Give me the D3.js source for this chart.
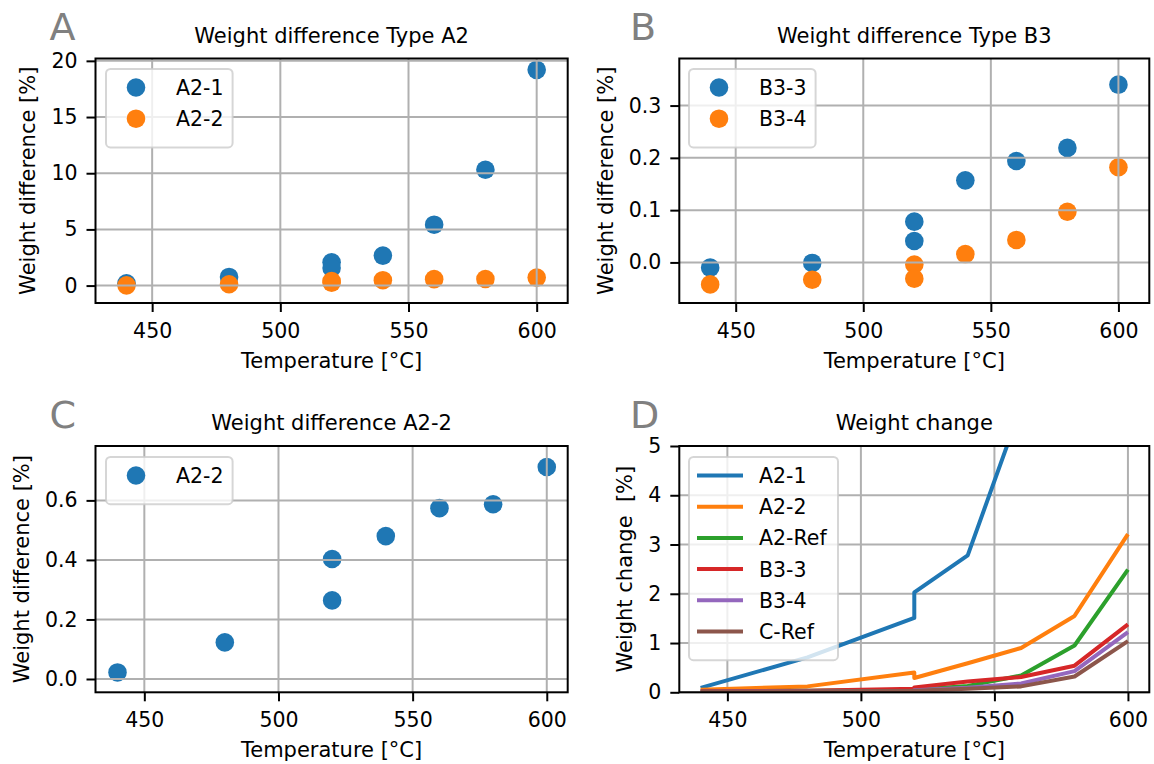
<!DOCTYPE html>
<html>
<head>
<meta charset="utf-8">
<script src="https://cdn.jsdelivr.net/npm/d3@7"></script>
<style>
  body { margin: 0; background: #fff; }
  text { font-family: "DejaVu Sans", sans-serif; }
</style>
</head>
<body>
<svg id="fig" width="1154" height="764"></svg>
<script>
// Test temperatures (520 °C was measured twice)
const temperatures = [440, 480, 520, 520, 540, 560, 580, 600];

// Weight difference [%] per sample
const diffA21 = [0.20, 0.77, 2.07, 1.57, 2.67, 5.42, 10.31, 19.2];
const diffA22 = [0.022, 0.123, 0.403, 0.264, 0.48, 0.574, 0.587, 0.712];
const diffB33 = [-0.010, -0.001, 0.078, 0.041, 0.157, 0.194, 0.219, 0.340];
const diffB34 = [-0.042, -0.033, -0.004, -0.031, 0.016, 0.043, 0.097, 0.182];

// Weight change [%] per sample
const changeA21 = [0.09, 0.71, 1.51, 2.03, 2.78, 5.8, 10.9, 20.1];
const changeA22 = [0.05, 0.12, 0.40, 0.29, 0.59, 0.90, 1.55, 3.21];
const changeA2Ref = [0.02, 0.03, 0.05, 0.05, 0.13, 0.34, 0.95, 2.49];
const changeB33 = [0.02, 0.03, 0.07, 0.10, 0.22, 0.31, 0.54, 1.38];
const changeB34 = [0.01, 0.02, 0.03, 0.04, 0.09, 0.18, 0.43, 1.22];
const changeCRef = [0.01, 0.02, 0.03, 0.03, 0.07, 0.12, 0.32, 1.04];

const changeNames = ["A2-1", "A2-2", "A2-Ref", "B3-3", "B3-4", "C-Ref"];
const changeSeries = [changeA21, changeA22, changeA2Ref, changeB33, changeB34, changeCRef];

// Axis ticks
const xTicks = [450, 500, 550, 600];
const yTicksA = [0, 5, 10, 15, 20];
const yTicksB = [0.0, 0.1, 0.2, 0.3];
const yTicksC = [0.0, 0.2, 0.4, 0.6];
const yTicksD = [0, 1, 2, 3, 4, 5];

const palette = ["#1f77b4", "#ff7f0e", "#2ca02c", "#d62728", "#9467bd", "#8c564b"];

const svg = d3.select("#fig");
const FONT = 20.5;
const GRID = "#b0b0b0";
const DOT_R = 9.3;

function panel(o) {
  const g = svg.append("g");
  const x = d3.scaleLinear().domain(o.xDomain).range([o.x0, o.x1]);
  const y = d3.scaleLinear().domain(o.yDomain).range([o.y1, o.y0]);
  const clipId = "clip-" + o.letter;
  svg.append("clipPath").attr("id", clipId)
    .append("rect").attr("x", o.x0).attr("y", o.y0)
    .attr("width", o.x1 - o.x0).attr("height", o.y1 - o.y0);

  const layerA = g.append("g");
  const layerB = g.append("g");
  const gridLayer = o.gridOnTop ? layerB : layerA;
  const dataLayer = (o.gridOnTop ? layerA : layerB).attr("clip-path", `url(#${clipId})`);

  gridLayer.selectAll("line.gx").data(xTicks).join("line")
    .attr("x1", d => x(d)).attr("x2", d => x(d))
    .attr("y1", o.y0).attr("y2", o.y1)
    .attr("stroke", GRID).attr("stroke-width", 2);
  gridLayer.selectAll("line.gy").data(o.yTicks).join("line")
    .attr("x1", o.x0).attr("x2", o.x1)
    .attr("y1", d => y(d)).attr("y2", d => y(d))
    .attr("stroke", GRID).attr("stroke-width", 2);

  // axes
  const ax = g.append("g").attr("transform", `translate(0,${o.y1})`)
    .call(d3.axisBottom(x).tickValues(xTicks).tickSize(9).tickPadding(11.5).tickFormat(d3.format("d")));
  const ay = g.append("g").attr("transform", `translate(${o.x0},0)`)
    .call(d3.axisLeft(y).tickValues(o.yTicks).tickSize(9).tickPadding(9).tickFormat(o.yFmt));
  [ax, ay].forEach(a => {
    a.select(".domain").remove();
    a.selectAll(".tick line").attr("stroke", "#000").attr("stroke-width", 2);
    a.selectAll(".tick text").attr("fill", "#000").style("font-size", FONT + "px")
      .style("font-family", '"DejaVu Sans", sans-serif');
  });

  // spines
  g.append("rect").attr("x", o.x0).attr("y", o.y0)
    .attr("width", o.x1 - o.x0).attr("height", o.y1 - o.y0)
    .attr("fill", "none").attr("stroke", "#000").attr("stroke-width", 2);

  // title, axis labels, panel letter
  g.append("text").attr("x", (o.x0 + o.x1) / 2).attr("y", o.y0 - 16)
    .attr("text-anchor", "middle").style("font-size", "21px").text(o.title);
  g.append("text").attr("x", (o.x0 + o.x1) / 2).attr("y", o.y1 + 65)
    .attr("text-anchor", "middle").style("font-size", "21px").text("Temperature [°C]");
  const tb = ay.node().getBBox();
  const lx = tb.x + o.x0 - 16;
  g.append("text").attr("transform", `translate(${lx},${(o.y0 + o.y1) / 2}) rotate(-90)`)
    .attr("text-anchor", "middle").style("font-size", "21px")
    .style("white-space", "pre").text(o.yLabel);
  g.append("text").attr("x", o.letterX).attr("y", o.y0 - 18.5)
    .attr("fill", "#808080").style("font-size", "38px").text(o.letter);

  return { g, x, y, dataLayer };
}

function legend(g, lx, ly, w, items, kind) {
  const rowH = 31.2;
  const h = 16 + rowH * items.length;
  const lg = g.append("g");
  lg.append("rect").attr("x", lx).attr("y", ly).attr("width", w).attr("height", h)
    .attr("rx", 4.5).attr("fill", "#fff").attr("fill-opacity", 0.8)
    .attr("stroke", "#cccccc").attr("stroke-opacity", 0.8).attr("stroke-width", 2);
  items.forEach((it, i) => {
    const cy = ly + 18.5 + rowH * i;
    if (kind === "dot") {
      lg.append("circle").attr("cx", lx + 30).attr("cy", cy).attr("r", DOT_R).attr("fill", it.color);
      lg.append("text").attr("x", lx + 70).attr("y", cy + 7.4).style("font-size", FONT + "px").text(it.name);
    } else {
      lg.append("line").attr("x1", lx + 8).attr("x2", lx + 54).attr("y1", cy).attr("y2", cy)
        .attr("stroke", it.color).attr("stroke-width", 4);
      lg.append("text").attr("x", lx + 70).attr("y", cy + 7.4).style("font-size", FONT + "px").text(it.name);
    }
  });
}

function dots(p, values, color) {
  p.dataLayer.append("g").selectAll("circle").data(temperatures.map((t, i) => [t, values[i]]))
    .join("circle").attr("cx", d => p.x(d[0])).attr("cy", d => p.y(d[1]))
    .attr("r", DOT_R).attr("fill", color);
}

// A: weight difference, type A2
const pA = panel({
  letter: "A", letterX: 49.5, title: "Weight difference Type A2",
  x0: 95.5, x1: 567.7, y0: 58.5, y1: 303,
  xDomain: [427.9, 612.1], yDomain: [-1.55, 20.21],
  yTicks: yTicksA, yFmt: d3.format("d"), yLabel: "Weight difference [%]", gridOnTop: true
});
dots(pA, diffA21, palette[0]);
dots(pA, diffA22, palette[1]);
legend(pA.g, 106, 69, 126.6, [{ name: "A2-1", color: palette[0] }, { name: "A2-2", color: palette[1] }], "dot");

// B: weight difference, type B3
const pB = panel({
  letter: "B", letterX: 630, title: "Weight difference Type B3",
  x0: 679.3, x1: 1149.3, y0: 58.5, y1: 303,
  xDomain: [427.9, 612.1], yDomain: [-0.0776, 0.39],
  yTicks: yTicksB, yFmt: d3.format(".1f"), yLabel: "Weight difference [%]", gridOnTop: true
});
dots(pB, diffB33, palette[0]);
dots(pB, diffB34, palette[1]);
legend(pB.g, 689, 69, 126.6, [{ name: "B3-3", color: palette[0] }, { name: "B3-4", color: palette[1] }], "dot");

// C: weight difference, A2-2 only
const pC = panel({
  letter: "C", letterX: 49.5, title: "Weight difference A2-2",
  x0: 95.5, x1: 567.7, y0: 446, y1: 692.3,
  xDomain: [431.8, 607.8], yDomain: [-0.0447, 0.7827],
  yTicks: yTicksC, yFmt: d3.format(".1f"), yLabel: "Weight difference [%]", gridOnTop: true
});
dots(pC, diffA22, palette[0]);
legend(pC.g, 106, 457, 126.6, [{ name: "A2-2", color: palette[0] }], "dot");

// D: weight change of all samples
const pD = panel({
  letter: "D", letterX: 630, title: "Weight change",
  x0: 679.3, x1: 1149.3, y0: 446, y1: 692.3,
  xDomain: [432, 608], yDomain: [0, 5],
  yTicks: yTicksD, yFmt: d3.format("d"), yLabel: "Weight change  [%]", gridOnTop: false
});
const line = d3.line().x((d, i) => pD.x(temperatures[i])).y(d => pD.y(d));
changeSeries.forEach((s, k) => {
  pD.dataLayer.append("path").datum(s).attr("d", line)
    .attr("fill", "none").attr("stroke", palette[k]).attr("stroke-width", 4)
    .attr("stroke-linejoin", "round").attr("stroke-linecap", "butt");
});
legend(pD.g, 689, 457, 149, changeNames.map((n, k) => ({ name: n, color: palette[k] })), "line");
</script>
</body>
</html>
